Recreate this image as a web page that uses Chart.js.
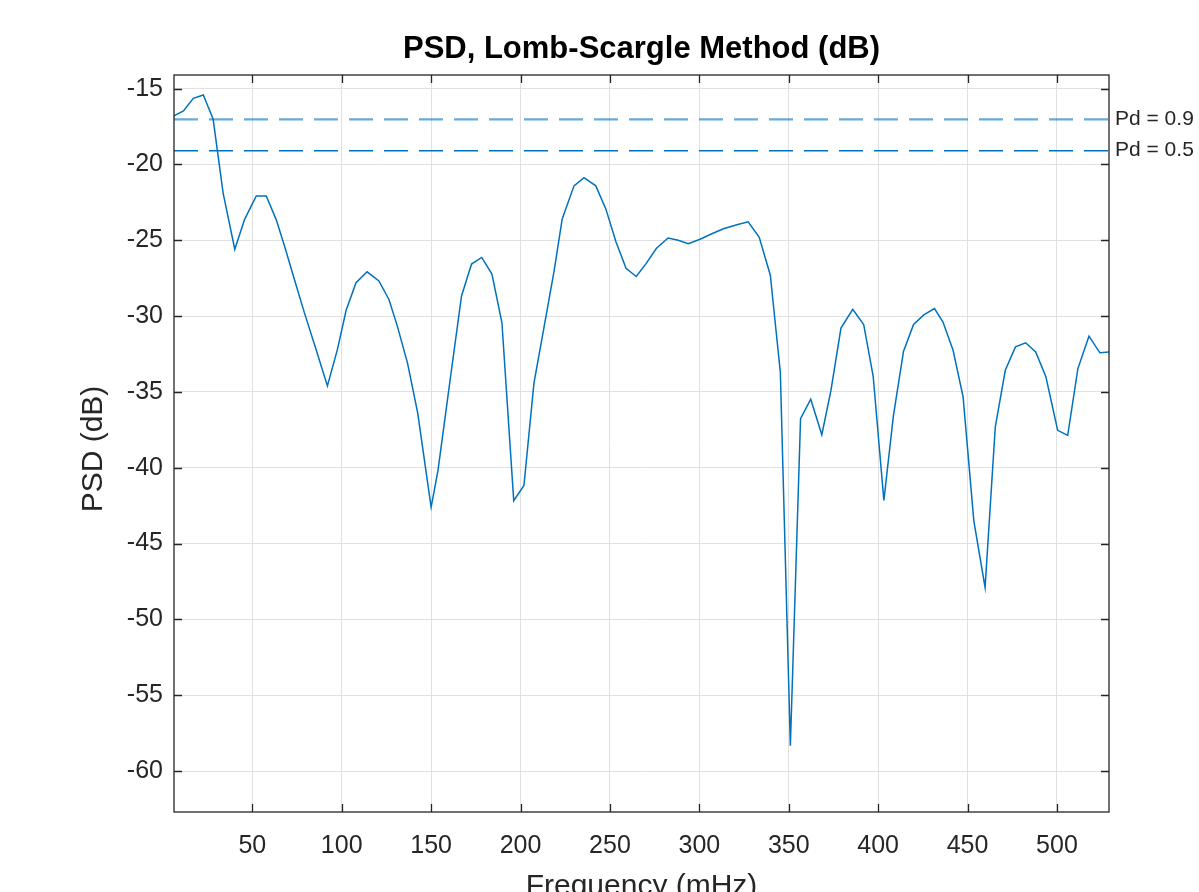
<!DOCTYPE html>
<html>
<head>
<meta charset="utf-8">
<title>PSD, Lomb-Scargle Method (dB)</title>
<script src="https://cdn.jsdelivr.net/npm/chart.js@4.4.1/dist/chart.umd.min.js"></script>
<style>
  html, body { margin: 0; padding: 0; background: #fff; }
  #wrap { width: 1199px; height: 892px; overflow: hidden; }
</style>
</head>
<body>
<div id="wrap"><canvas id="psdChart" width="1199" height="892"></canvas></div>
<script>
// frequency (mHz), one per vertex of the trace
let freq = [
  6.2, 11.5, 17.0, 22.6, 28.1, 33.7, 40.2, 45.7, 52.2, 57.8,
  63.3, 68.0, 73.5, 79.1, 85.6, 92.0, 97.6, 102.5, 108.0, 114.2,
  120.8, 126.4, 131.1, 136.8, 142.5, 150.0, 153.8, 160.4, 167.0, 172.6,
  178.3, 184.0, 189.6, 196.2, 201.9, 207.5, 213.5, 218.8, 223.3, 229.9,
  235.5, 242.1, 247.7, 253.4, 259.0, 264.7, 270.3, 275.9, 282.5, 288.2,
  293.8, 300.4, 307.0, 313.5, 321.0, 327.3, 333.5, 339.7, 345.3, 350.9,
  356.6, 362.3, 368.5, 373.6, 379.2, 385.8, 391.9, 397.2, 403.2, 408.5,
  414.2, 419.8, 425.5, 431.5, 436.2, 441.9, 447.5, 453.5, 459.8, 465.5,
  471.1, 476.8, 482.5, 488.1, 493.8, 500.4, 506.0, 511.7, 517.9, 524.0,
  529.1
];
// PSD (dB)
let psd = [
  -16.8, -16.47, -15.64, -15.42, -17.02, -21.9, -25.59, -23.62, -22.08, -22.08,
  -23.62, -25.37, -27.57, -29.77, -32.19, -34.6, -32.19, -29.6, -27.8, -27.08,
  -27.68, -28.9, -30.66, -33.1, -36.4, -42.6, -40.2, -34.4, -28.67, -26.57,
  -26.13, -27.23, -30.44, -42.17, -41.17, -34.42, -30.5, -27.0, -23.59, -21.41,
  -20.87, -21.41, -22.93, -25.11, -26.85, -27.39, -26.52, -25.54, -24.85, -25.0,
  -25.22, -24.93, -24.57, -24.24, -23.98, -23.78, -24.8, -27.3, -33.72, -58.33,
  -36.76, -35.48, -37.82, -34.9, -30.79, -29.55, -30.55, -33.95, -42.15, -36.6,
  -32.31, -30.55, -29.92, -29.5, -30.37, -32.25, -35.33, -43.5, -47.89, -37.31,
  -33.57, -32.03, -31.76, -32.36, -34.0, -37.53, -37.86, -33.46, -31.32, -32.42,
  -32.36
];
// detection thresholds
let pdLabels = ["Pd = 0.9", "Pd = 0.5"];
let pdLevels = [-17.02, -19.09];

let xTicks = [50, 100, 150, 200, 250, 300, 350, 400, 450, 500];
let yTicks = [-60, -55, -50, -45, -40, -35, -30, -25, -20, -15];
let xMin = 6.2, xMax = 529.1;
let yMin = -62.7, yMax = -14.1;

let axisColor = "#262626";
let lineBlue = "#0072BD";
let fontName = "'Liberation Sans', Arial, Helvetica, sans-serif";

let psdPoints = freq.map((f, i) => ({ x: f, y: psd[i] }));

// box, inward ticks and all the text outside the axes
let matlabAxes = {
  id: "matlabAxes",
  afterDraw(chart) {
    let ctx = chart.ctx;
    let a = chart.chartArea;
    let xs = chart.scales.x;
    let ys = chart.scales.y;
    ctx.save();
    ctx.strokeStyle = axisColor;
    ctx.lineWidth = 1.3;
    ctx.strokeRect(a.left, a.top, a.right - a.left, a.bottom - a.top);
    ctx.beginPath();
    xTicks.forEach(v => {
      let px = Math.round(xs.getPixelForValue(v)) + 0.5;
      ctx.moveTo(px, a.bottom); ctx.lineTo(px, a.bottom - 8);
      ctx.moveTo(px, a.top); ctx.lineTo(px, a.top + 8);
    });
    yTicks.forEach(v => {
      let py = Math.round(ys.getPixelForValue(v)) + 0.5;
      ctx.moveTo(a.left, py); ctx.lineTo(a.left + 8, py);
      ctx.moveTo(a.right, py); ctx.lineTo(a.right - 8, py);
    });
    ctx.stroke();

    ctx.fillStyle = "#000";
    ctx.font = "bold 31px " + fontName;
    ctx.textAlign = "center";
    ctx.textBaseline = "alphabetic";
    ctx.fillText("PSD, Lomb-Scargle Method (dB)", (a.left + a.right) / 2, 58);

    ctx.fillStyle = axisColor;
    ctx.font = "30px " + fontName;
    ctx.fillText("Frequency (mHz)", (a.left + a.right) / 2, 895);

    ctx.save();
    ctx.translate(102, 449);
    ctx.rotate(-Math.PI / 2);
    ctx.fillText("PSD (dB)", 0, 0);
    ctx.restore();

    ctx.font = "21px " + fontName;
    ctx.textAlign = "left";
    ctx.textBaseline = "middle";
    pdLabels.forEach((t, i) => {
      ctx.fillText(t, a.right + 6, ys.getPixelForValue(pdLevels[i]));
    });
    ctx.restore();
  }
};

let myChart = new Chart(document.getElementById("psdChart"), {
  type: "line",
  data: {
    datasets: [
      {
        label: "PSD",
        data: psdPoints,
        borderColor: lineBlue,
        borderWidth: 1.5,
        pointRadius: 0,
        tension: 0,
        fill: false
      },
      {
        label: pdLabels[0],
        data: [{ x: xMin, y: pdLevels[0] }, { x: xMax, y: pdLevels[0] }],
        borderColor: "rgba(0, 114, 189, 0.6)",
        borderWidth: 2.2,
        borderDash: [24, 11],
        pointRadius: 0,
        fill: false
      },
      {
        label: pdLabels[1],
        data: [{ x: xMin, y: pdLevels[1] }, { x: xMax, y: pdLevels[1] }],
        borderColor: lineBlue,
        borderWidth: 1.5,
        borderDash: [24, 11],
        pointRadius: 0,
        fill: false
      }
    ]
  },
  options: {
    responsive: false,
    animation: false,
    devicePixelRatio: 1,
    layout: { padding: { left: 0, top: 75, right: 90, bottom: 0 } },
    plugins: {
      legend: { display: false },
      tooltip: { enabled: false },
      title: { display: false }
    },
    scales: {
      x: {
        type: "linear",
        min: xMin,
        max: xMax,
        afterBuildTicks: s => { s.ticks = xTicks.map(v => ({ value: v })); },
        afterFit: s => { s.height = 80; },
        grid: { color: "#e1e1e1", lineWidth: 1, drawTicks: false },
        border: { display: false },
        ticks: {
          color: axisColor,
          font: { family: fontName, size: 25 },
          padding: 19,
          maxRotation: 0,
          autoSkip: false
        }
      },
      y: {
        type: "linear",
        min: yMin,
        max: yMax,
        afterBuildTicks: s => { s.ticks = yTicks.map(v => ({ value: v })); },
        afterFit: s => { s.width = 174; },
        grid: { color: "#e1e1e1", lineWidth: 1, drawTicks: false },
        border: { display: false },
        ticks: {
          color: axisColor,
          font: { family: fontName, size: 25 },
          padding: 11,
          autoSkip: false
        }
      }
    }
  },
  plugins: [matlabAxes]
});
</script>
</body>
</html>
